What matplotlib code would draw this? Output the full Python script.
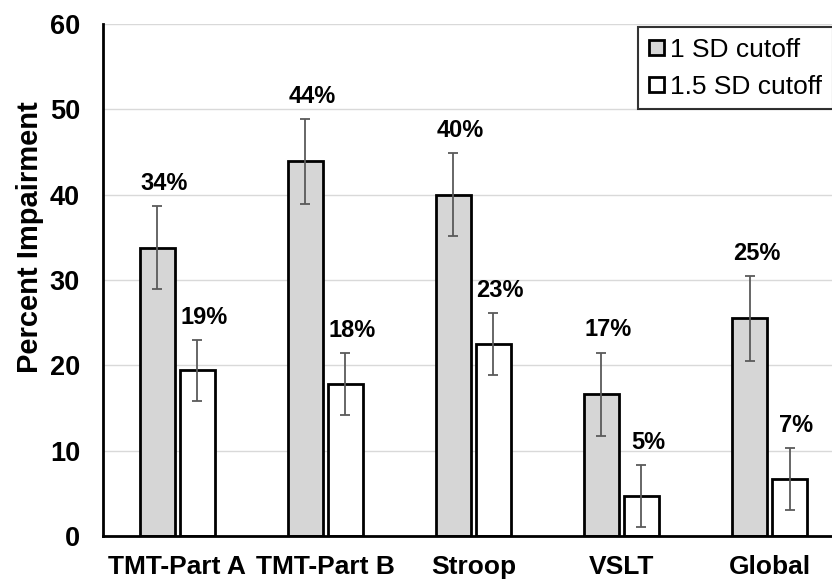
import matplotlib
matplotlib.use("Agg")
import matplotlib.pyplot as plt
import numpy as np
from matplotlib.patches import Patch

categories = ["TMT-Part A", "TMT-Part B", "Stroop", "VSLT", "Global"]
sd1_values = [33.8, 43.9, 40.0, 16.6, 25.5]
sd1_errors = [4.9, 5.0, 4.9, 4.9, 5.0]
sd15_values = [19.4, 17.8, 22.5, 4.7, 6.7]
sd15_errors = [3.6, 3.6, 3.6, 3.6, 3.6]
sd1_labels = ["34%", "44%", "40%", "17%", "25%"]
sd15_labels = ["19%", "18%", "23%", "5%", "7%"]
series_names = ["1 SD cutoff", "1.5 SD cutoff"]
yticks = [0, 10, 20, 30, 40, 50, 60]

plt.rcParams['font.family'] = ['Liberation Sans', 'DejaVu Sans']

fig = plt.figure(figsize=(8.32, 5.81), dpi=100)
ax = fig.add_axes([103/832, 45/581, 740.6/832, 512/581])

x = np.arange(len(categories))
off = 0.135
w = 0.236
gray = '#d6d6d6'
ax.grid(axis='y', color='#d9d9d9', lw=1.0, zorder=0)
ax.set_axisbelow(True)

ax.bar(x - off, sd1_values, w, color=gray, edgecolor='black', linewidth=2.0, zorder=2)
ax.bar(x + off, sd15_values, w, color='white', edgecolor='black', linewidth=2.0, zorder=2)
ax.errorbar(x - off, sd1_values, yerr=sd1_errors, fmt='none', ecolor='#5a5a5a', elinewidth=1.3, capsize=3.5, capthick=1.3, zorder=3)
ax.errorbar(x + off, sd15_values, yerr=sd15_errors, fmt='none', ecolor='#5a5a5a', elinewidth=1.3, capsize=3.5, capthick=1.3, zorder=3)

for xi, v, e, lab in zip(x - off, sd1_values, sd1_errors, sd1_labels):
    ax.annotate(lab, (xi, v + e), xytext=(5, 8), textcoords='offset points', ha='center', va='bottom', fontsize=17, fontweight='bold')
for xi, v, e, lab in zip(x + off, sd15_values, sd15_errors, sd15_labels):
    ax.annotate(lab, (xi, v + e), xytext=(5, 8), textcoords='offset points', ha='center', va='bottom', fontsize=17, fontweight='bold')

ax.set_xlim(-0.5, 4.5)
ax.set_ylim(0, 60)
ax.set_yticks(yticks)
ax.set_yticklabels([str(t) for t in yticks], fontsize=19.5, fontweight='bold')
ax.set_xticks(x)
ax.set_xticklabels(categories, fontsize=19, fontweight='bold')
ax.tick_params(axis='both', length=0)
ax.tick_params(axis='y', pad=16.5)
ax.tick_params(axis='x', pad=14)
ax.set_ylabel("Percent Impairment", fontsize=21, fontweight='bold')
ax.yaxis.set_label_coords(-0.079, 0.584)
for s in ['top', 'right']:
    ax.spines[s].set_visible(False)
ax.spines['left'].set_linewidth(2.0)
ax.spines['bottom'].set_linewidth(2.0)

handles = [Patch(facecolor=gray, edgecolor='black', linewidth=2.0),
           Patch(facecolor='white', edgecolor='black', linewidth=2.0)]
leg = fig.legend(handles, series_names, loc='upper left', bbox_to_anchor=(638/832, 1 - 27/581),
                 fontsize=19, frameon=True, fancybox=False, edgecolor='black',
                 handlelength=0.57, handleheight=0.5, handletextpad=0.25, borderpad=0.4,
                 labelspacing=0.5, borderaxespad=0)
leg.get_frame().set_linewidth(1.5)

fig.savefig("out.png", dpi=100)
